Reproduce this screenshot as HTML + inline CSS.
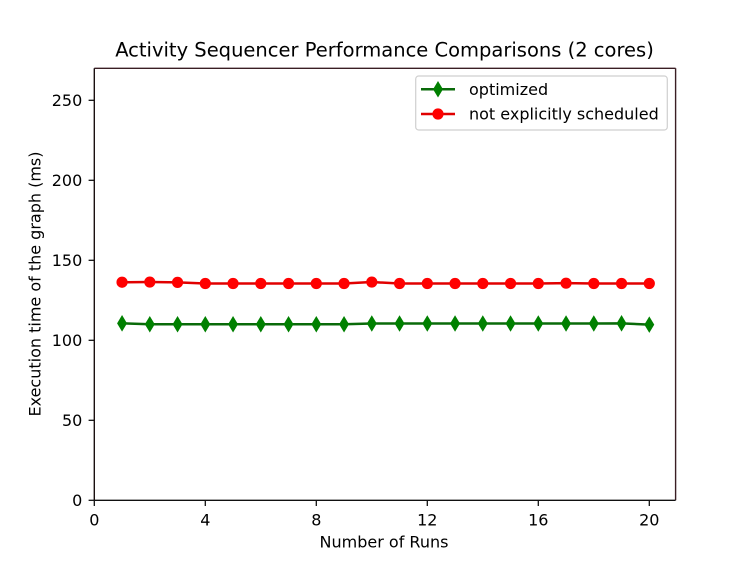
<!DOCTYPE html>
<html>
<head>
<meta charset="utf-8">
<style>
  html,body{margin:0;padding:0;background:#fff;}
  svg{display:block;}
  text{font-family:"DejaVu Sans","Liberation Sans",sans-serif;fill:#000;}
</style>
</head>
<body>
<svg width="750" height="562" viewBox="0 0 750 562" xmlns="http://www.w3.org/2000/svg">
  <rect x="0" y="0" width="750" height="562" fill="#fff"/>

  <!-- Title -->
  <text x="384.5" y="56.7" font-size="19.5" text-anchor="middle">Activity Sequencer Performance Comparisons (2 cores)</text>

  <!-- Axes frame -->
  <line x1="94.3" y1="68.3" x2="675.6" y2="68.3" stroke="#3a1e24" stroke-width="1.4"/>
  <line x1="675.6" y1="68.3" x2="675.6" y2="500.3" stroke="#3a1e24" stroke-width="1.4"/>
  <line x1="94.3" y1="68.3" x2="94.3" y2="500.3" stroke="#1a1010" stroke-width="1.4"/>
  <line x1="94.3" y1="500.3" x2="675.6" y2="500.3" stroke="#111" stroke-width="1.4"/>

  <!-- X ticks -->
  <g stroke="#111" stroke-width="1.3">
    <line x1="94.3" y1="500.3" x2="94.3" y2="506"/>
    <line x1="205.3" y1="500.3" x2="205.3" y2="506"/>
    <line x1="316.3" y1="500.3" x2="316.3" y2="506"/>
    <line x1="427.3" y1="500.3" x2="427.3" y2="506"/>
    <line x1="538.3" y1="500.3" x2="538.3" y2="506"/>
    <line x1="649.3" y1="500.3" x2="649.3" y2="506"/>
  </g>
  <g font-size="16" text-anchor="middle">
    <text x="94.3" y="525.5">0</text>
    <text x="205.3" y="525.5">4</text>
    <text x="316.3" y="525.5">8</text>
    <text x="427.3" y="525.5">12</text>
    <text x="538.3" y="525.5">16</text>
    <text x="649.3" y="525.5">20</text>
  </g>

  <!-- Y ticks -->
  <g stroke="#111" stroke-width="1.3">
    <line x1="88.6" y1="500.3" x2="94.3" y2="500.3"/>
    <line x1="88.6" y1="420.3" x2="94.3" y2="420.3"/>
    <line x1="88.6" y1="340.3" x2="94.3" y2="340.3"/>
    <line x1="88.6" y1="260.3" x2="94.3" y2="260.3"/>
    <line x1="88.6" y1="180.3" x2="94.3" y2="180.3"/>
    <line x1="88.6" y1="100.3" x2="94.3" y2="100.3"/>
  </g>
  <g font-size="16" text-anchor="end">
    <text x="82.3" y="506.1">0</text>
    <text x="82.3" y="426.1">50</text>
    <text x="82.3" y="346.1">100</text>
    <text x="82.3" y="266.1">150</text>
    <text x="82.3" y="186.1">200</text>
    <text x="82.3" y="106.1">250</text>
  </g>

  <!-- Axis labels -->
  <text x="384" y="547.3" font-size="16" text-anchor="middle">Number of Runs</text>
  <text transform="translate(40.7,284) rotate(-90)" x="0" y="0" font-size="16" text-anchor="middle">Execution time of the graph (ms)</text>

  <!-- Green series (optimized) -->
  <polyline fill="none" stroke="#0a6a0a" stroke-width="2.5" stroke-linejoin="round"
    points="122.05,323.34 149.8,324.3 177.55,324.3 205.3,324.3 233.05,324.3 260.8,324.3 288.55,324.3 316.3,324.3 344.05,324.3 371.8,323.5 399.55,323.5 427.3,323.5 455.05,323.5 482.8,323.5 510.55,323.5 538.3,323.5 566.05,323.5 593.8,323.5 621.55,323.34 649.3,324.62"/>
  <g fill="#008000" stroke="#008000" stroke-width="1.4">
    <path d="M122.05,316.4 L126.2,323.34 L122.05,330.3 L117.9,323.34 Z"/>
    <path d="M149.8,317.4 L153.95,324.3 L149.8,331.2 L145.65,324.3 Z"/>
    <path d="M177.55,317.4 L181.7,324.3 L177.55,331.2 L173.4,324.3 Z"/>
    <path d="M205.3,317.4 L209.45,324.3 L205.3,331.2 L201.15,324.3 Z"/>
    <path d="M233.05,317.4 L237.2,324.3 L233.05,331.2 L228.9,324.3 Z"/>
    <path d="M260.8,317.4 L264.95,324.3 L260.8,331.2 L256.65,324.3 Z"/>
    <path d="M288.55,317.4 L292.7,324.3 L288.55,331.2 L284.4,324.3 Z"/>
    <path d="M316.3,317.4 L320.45,324.3 L316.3,331.2 L312.15,324.3 Z"/>
    <path d="M344.05,317.4 L348.2,324.3 L344.05,331.2 L339.9,324.3 Z"/>
    <path d="M371.8,316.6 L375.95,323.5 L371.8,330.4 L367.65,323.5 Z"/>
    <path d="M399.55,316.6 L403.7,323.5 L399.55,330.4 L395.4,323.5 Z"/>
    <path d="M427.3,316.6 L431.45,323.5 L427.3,330.4 L423.15,323.5 Z"/>
    <path d="M455.05,316.6 L459.2,323.5 L455.05,330.4 L450.9,323.5 Z"/>
    <path d="M482.8,316.6 L486.95,323.5 L482.8,330.4 L478.65,323.5 Z"/>
    <path d="M510.55,316.6 L514.7,323.5 L510.55,330.4 L506.4,323.5 Z"/>
    <path d="M538.3,316.6 L542.45,323.5 L538.3,330.4 L534.15,323.5 Z"/>
    <path d="M566.05,316.6 L570.2,323.5 L566.05,330.4 L561.9,323.5 Z"/>
    <path d="M593.8,316.6 L597.95,323.5 L593.8,330.4 L589.65,323.5 Z"/>
    <path d="M621.55,316.4 L625.7,323.34 L621.55,330.3 L617.4,323.34 Z"/>
    <path d="M649.3,317.7 L653.45,324.62 L649.3,331.5 L645.15,324.62 Z"/>
  </g>

  <!-- Red series (not explicitly scheduled) -->
  <polyline fill="none" stroke="#e00000" stroke-width="2.5" stroke-linejoin="round"
    points="122.05,282.22 149.8,282.06 177.55,282.38 205.3,283.5 233.05,283.5 260.8,283.5 288.55,283.5 316.3,283.5 344.05,283.5 371.8,282.06 399.55,283.5 427.3,283.5 455.05,283.5 482.8,283.5 510.55,283.5 538.3,283.5 566.05,283.18 593.8,283.5 621.55,283.5 649.3,283.5"/>
  <g fill="#ff0000" stroke="#ff0000" stroke-width="1.4">
    <circle cx="122.05" cy="282.22" r="4.9"/>
    <circle cx="149.8" cy="282.06" r="4.9"/>
    <circle cx="177.55" cy="282.38" r="4.9"/>
    <circle cx="205.3" cy="283.5" r="4.9"/>
    <circle cx="233.05" cy="283.5" r="4.9"/>
    <circle cx="260.8" cy="283.5" r="4.9"/>
    <circle cx="288.55" cy="283.5" r="4.9"/>
    <circle cx="316.3" cy="283.5" r="4.9"/>
    <circle cx="344.05" cy="283.5" r="4.9"/>
    <circle cx="371.8" cy="282.06" r="4.9"/>
    <circle cx="399.55" cy="283.5" r="4.9"/>
    <circle cx="427.3" cy="283.5" r="4.9"/>
    <circle cx="455.05" cy="283.5" r="4.9"/>
    <circle cx="482.8" cy="283.5" r="4.9"/>
    <circle cx="510.55" cy="283.5" r="4.9"/>
    <circle cx="538.3" cy="283.5" r="4.9"/>
    <circle cx="566.05" cy="283.18" r="4.9"/>
    <circle cx="593.8" cy="283.5" r="4.9"/>
    <circle cx="621.55" cy="283.5" r="4.9"/>
    <circle cx="649.3" cy="283.5" r="4.9"/>
  </g>

  <!-- Legend -->
  <rect x="415.7" y="76" width="251.6" height="54" rx="3" ry="3" fill="#fff" fill-opacity="0.85" stroke="#cfcfcf" stroke-width="1.2"/>
  <line x1="421" y1="89.3" x2="455" y2="89.3" stroke="#0a6a0a" stroke-width="2.5"/>
  <path d="M438,82.4 L442.15,89.3 L438,96.2 L433.85,89.3 Z" fill="#008000" stroke="#008000" stroke-width="1.4"/>
  <text x="469" y="95" font-size="16">optimized</text>
  <line x1="421" y1="114" x2="455" y2="114" stroke="#e00000" stroke-width="2.5"/>
  <circle cx="438" cy="114" r="4.9" fill="#ff0000" stroke="#ff0000" stroke-width="1.4"/>
  <text x="469" y="119.5" font-size="16">not explicitly scheduled</text>
</svg>
</body>
</html>
